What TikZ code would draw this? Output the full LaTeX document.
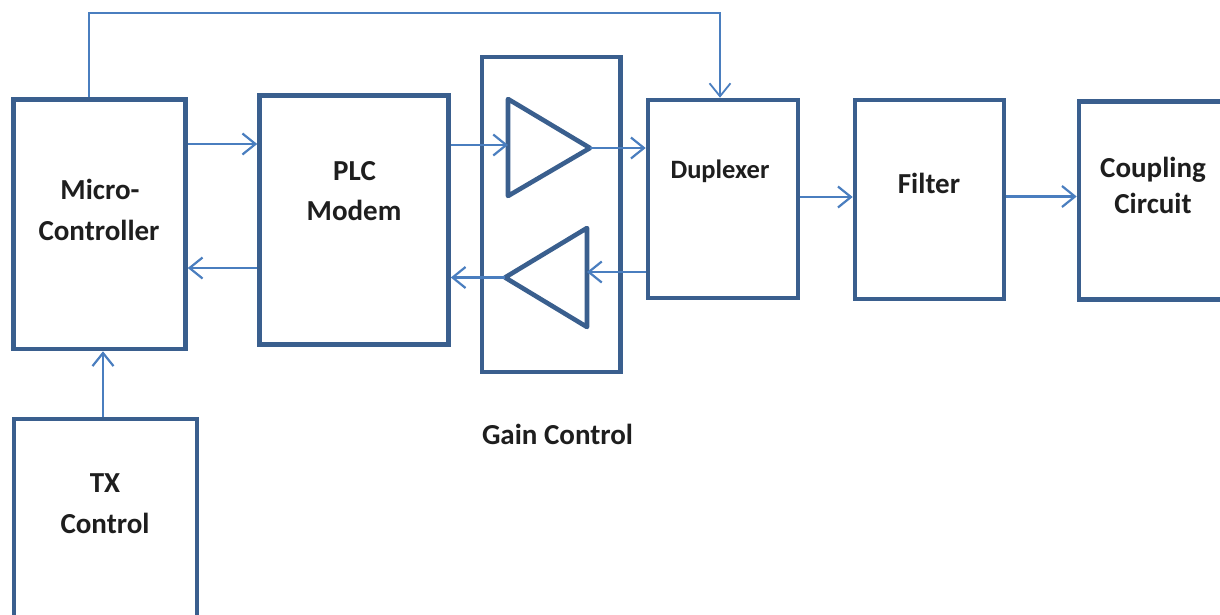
\documentclass[tikz,border=0pt]{standalone}
\usepackage{fontspec}
\setmainfont{Carlito}
\usetikzlibrary{arrows.meta}
\definecolor{boxblue}{HTML}{3A5F8E}
\definecolor{wireblue}{HTML}{4A7EBF}
\definecolor{ink}{HTML}{1E1E1E}
\begin{document}
\begin{tikzpicture}[x=1pt,y=-1pt,
  blk/.style={draw=boxblue,line width=4.6pt,fill=white,rectangle,inner sep=0pt},
  amp/.style={draw=boxblue,line width=4.6pt,line join=round},
  wire/.style={draw=wireblue,line width=2.2pt,-{Straight Barb[length=13pt,width=21pt]}},
  lbl/.style={font=\fontsize{29}{34}\selectfont\bfseries,text=ink,anchor=base,inner sep=0pt},
  small/.style={font=\fontsize{26.5}{30}\selectfont\bfseries}]
\useasboundingbox (0,0) rectangle (1220,614);
\clip (0,0) rectangle (1220,614);

% blocks
\node[blk,minimum width=172pt,minimum height=249.5pt] (micro) at (99.5,224.25) {};
\node[blk,minimum width=189pt,minimum height=249pt] (plc) at (354,220) {};
\node[blk,minimum width=138.5pt,minimum height=315pt] (gain) at (551.25,214.5) {};
\node[blk,minimum width=150pt,minimum height=198pt] (dup) at (723,199) {};
\node[blk,minimum width=149pt,minimum height=199pt] (filter) at (929.5,199.5) {};
\node[blk,minimum width=171pt,minimum height=198pt] (coup) at (1164.5,200.5) {};
\node[blk,minimum width=183pt,minimum height=231pt] (tx) at (105.5,534.5) {};

% amplifiers inside the gain control block
\draw[amp] (508,99) -- (508,196) -- (590,148) -- cycle;
\draw[amp] (587,228) -- (587,327) -- (505,277.5) -- cycle;
\coordinate (upIn) at (508,145);
\coordinate (upOut) at (590,148);
\coordinate (loIn) at (587,272);
\coordinate (loOut) at (505,277.5);

% helper levels for the connectors
\coordinate (ya) at (0,144);
\coordinate (yb) at (0,268);
\coordinate (yc) at (0,197);
\coordinate (yd) at (0,196.5);
\coordinate (xa) at (103,0);
\coordinate (fbL) at (89,13);
\coordinate (fbR) at (720,13);

% connectors
\draw[wire] (micro.east |- ya) -- (plc.west |- ya);
\draw[wire] (plc.west |- yb) -- (micro.east |- yb);
\draw[wire] (plc.east |- upIn) -- (upIn);
\draw[wire] (upOut) -- (dup.west |- upOut);
\draw[wire] (dup.west |- loIn) -- (loIn);
\draw[wire] (loOut) -- (plc.east |- loOut);
\draw[wire] (dup.east |- yc) -- (filter.west |- yc);
\draw[wire] (filter.east |- yd) -- (coup.west |- yd);
\draw[wire] (tx.north -| xa) -- (micro.south -| xa);
\draw[wire,line width=1.8pt] (micro.north -| fbL) -- (fbL) -- (fbR) -- (dup.north -| fbR);

% labels
\node[lbl] (microA) at (100,199) {Micro-};
\node[lbl] (microB) at (99,240) {Controller};
\node[lbl] (plcA) at (354.5,180) {PLC};
\node[lbl] (plcB) at (354,220) {Modem};
\node[lbl,small] (dupL) at (720,178) {Duplexer};
\node[lbl] (filtL) at (929,193) {Filter};
\node[lbl] (coupA) at (1153,177) {Coupling};
\node[lbl] (coupB) at (1153,213) {Circuit};
\node[lbl] (gainL) at (557.5,444) {Gain Control};
\node[lbl] (txA) at (105,492) {TX};
\node[lbl] (txB) at (105,533) {Control};
\end{tikzpicture}
\end{document}
